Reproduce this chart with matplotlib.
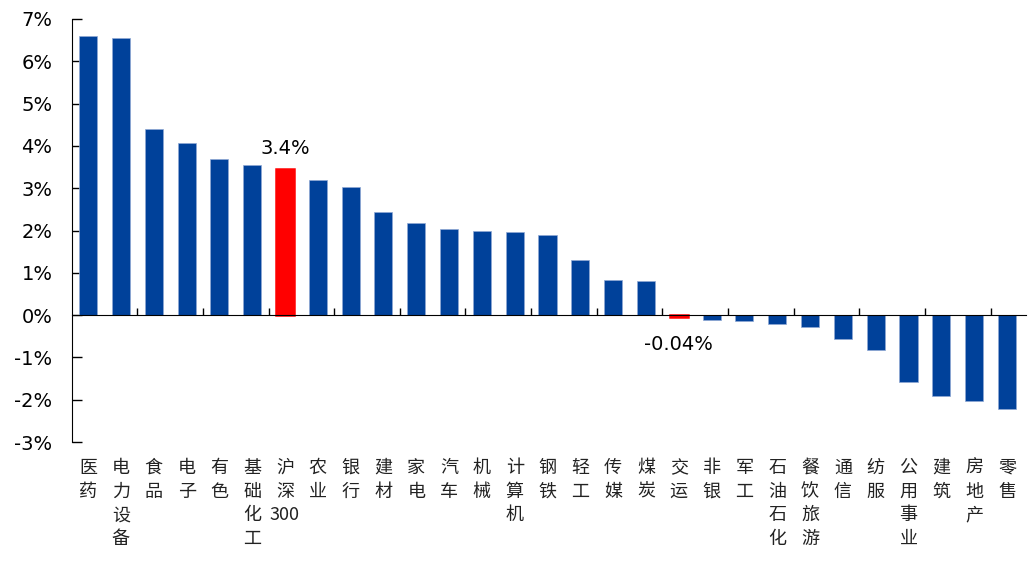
import numpy as np
import matplotlib
matplotlib.use("Agg")
import matplotlib.pyplot as plt
from matplotlib.ticker import FixedLocator, NullLocator

plt.rcParams['font.family'] = ['DejaVu Sans', 'Noto Sans CJK SC']

#%% data
sectors = ['医药', '电力设备', '食品', '电子', '有色', '基础化工', '沪深300', '农业',
           '银行', '建材', '家电', '汽车', '机械', '计算机', '钢铁', '轻工', '传媒',
           '煤炭', '交运', '非银', '军工', '石油石化', '餐饮旅游', '通信', '纺服',
           '公用事业', '建筑', '房地产', '零售']
returns = [6.60, 6.55, 4.41, 4.06, 3.68, 3.54, 3.45, 3.20, 3.04, 2.43, 2.17, 2.03,
           1.98, 1.96, 1.90, 1.30, 0.83, 0.80, -0.04, -0.12, -0.15, -0.20, -0.27,
           -0.57, -0.83, -1.58, -1.92, -2.03, -2.22]
highlight = ['沪深300', '交运']
annotations = {'沪深300': '3.4%', '交运': '-0.04%'}

blue = '#00419A'
red = '#FF0000'

#%% plot
fig = plt.figure(figsize=(10.33, 5.62), dpi=100)
ax = fig.add_axes([72/1033, 1 - 442/562, (1026-72)/1033, (442-19)/562])

x = np.arange(len(sectors))
colors = [red if s in highlight else blue for s in sectors]
edges = [red if s in highlight else '#8fa9d4' for s in sectors]
widths = [1.8 if s in highlight else 0.5 for s in sectors]
ax.bar(x, returns, width=0.55, color=colors, edgecolor=edges, linewidth=widths, zorder=2)

ax.set_xlim(-0.49, len(sectors) - 0.42)
ax.set_ylim(-3, 7)
ax.set_yticks(range(-3, 8))
ax.set_yticklabels(['%d%%' % v for v in range(-3, 8)], fontsize=14)
ax.tick_params(axis='y', direction='in', length=7, width=1, pad=14)

# x axis sits on zero, minor ticks between every second bar
ax.spines['bottom'].set_position(('data', 0))
ax.spines['top'].set_visible(False)
ax.spines['right'].set_visible(False)
ax.xaxis.set_major_locator(NullLocator())
ax.xaxis.set_minor_locator(FixedLocator(np.arange(1.5, len(sectors) - 1, 2)))
ax.tick_params(axis='x', which='minor', direction='in', length=5, width=1)

# vertical category labels
for i, s in enumerate(sectors):
    if s.endswith('300'):
        lab = '\n'.join(list(s[:-3])) + '\n300'
    else:
        lab = '\n'.join(list(s))
    ax.text(i, -0.04, lab, transform=ax.get_xaxis_transform(), ha='center', va='top',
            fontsize=13, linespacing=1.4, color='#222222',
            family=['Noto Sans CJK SC', 'DejaVu Sans'])

# value annotations
for s, txt in annotations.items():
    i = sectors.index(s)
    v = returns[i]
    if v >= 0:
        ax.annotate(txt, (i, v), xytext=(0, 8), textcoords='offset points',
                    ha='center', va='bottom', fontsize=14)
    else:
        ax.annotate(txt, (i, 0), xytext=(0, -14), textcoords='offset points',
                    ha='center', va='top', fontsize=14)

plt.savefig("out.png", dpi=100)
